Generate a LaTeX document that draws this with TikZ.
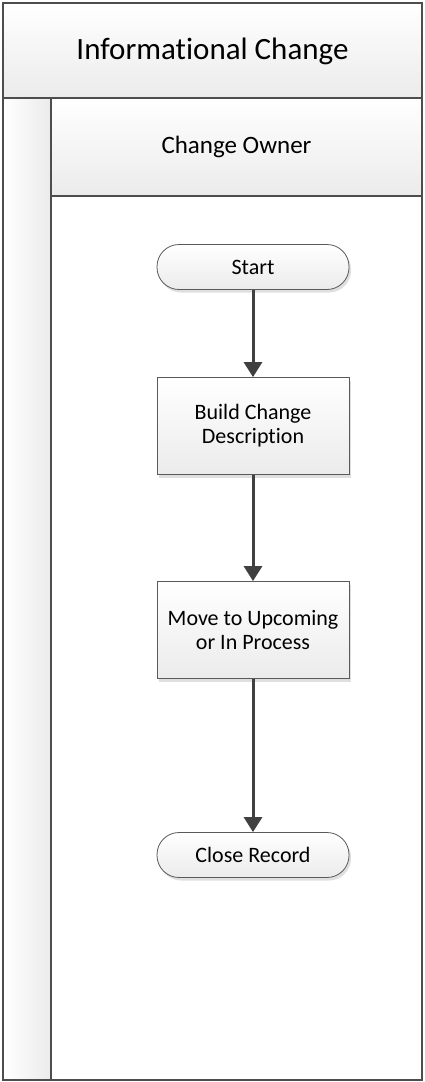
\documentclass[tikz,border=0pt]{standalone}
\usepackage{fontspec}
\setmainfont{Carlito}[Ligatures=NoCommon]
\usetikzlibrary{arrows.meta,shadows}

\definecolor{frameg}{HTML}{4D4D4D}
\definecolor{lineg}{HTML}{5A5A5A}
\definecolor{arrowg}{HTML}{404040}
\definecolor{fillg}{HTML}{EBEBEB}

\tikzset{
  laneline/.style={draw=frameg, line width=1.8pt},
  procbox/.style={draw=lineg, line width=0.8pt, minimum width=192pt,
    minimum height=97pt, top color=white, bottom color=fillg, align=center,
    font=\fontsize{22}{24}\selectfont,
    drop shadow={opacity=0.25, shadow xshift=2pt, shadow yshift=-3pt}},
  termbox/.style={procbox, minimum height=45pt, rounded corners=22pt},
  flow/.style={draw=arrowg, line width=3pt, -{Triangle[length=15pt,width=18pt]}}
}

\begin{document}
\begin{tikzpicture}[x=1pt,y=-1pt]
  \useasboundingbox (0,0) rectangle (425,1082);
  % pool and lane
  \draw[laneline, top color=white, bottom color=fillg] (3,3) rectangle (422,98);
  \node (pool) at (212.5,51) {\fontsize{31}{36}\selectfont Informational Change};
  \draw[laneline, left color=white, right color=fillg] (3,98) rectangle (51,1080);
  \draw[laneline, top color=white, bottom color=fillg] (51,98) rectangle (422,196);
  \node (lane) at (236.5,147) {\fontsize{25}{30}\selectfont Change Owner};
  \draw[laneline, fill=white] (51,196) rectangle (422,1080);
  \draw[draw=frameg, line width=2.6pt] (3,3) rectangle (422,1080);

  % steps
  \node[termbox] (start) at (253,267) {Start};
  \node[procbox] (build) at (253,426) {Build Change\\Description};
  \node[procbox] (move) at (253,630) {Move to Upcoming\\or In Process};
  \node[termbox] (close) at (253,855) {Close Record};

  \draw[flow] (start) -- (build);
  \draw[flow] (build) -- (move);
  \draw[flow] (move) -- (close);
\end{tikzpicture}
\end{document}
